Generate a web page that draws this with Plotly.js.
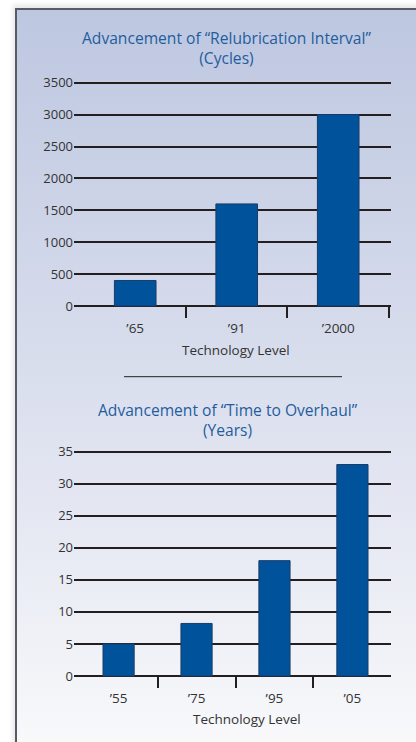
<!DOCTYPE html>
<html>
<head>
<meta charset="utf-8">
<script src="https://cdn.plot.ly/plotly-3.0.1.min.js"></script>
<style>
  html, body { margin: 0; padding: 0; background: #ffffff; width: 416px; height: 742px; overflow: hidden; }
  #panel {
    position: absolute; left: 15px; top: 8px; width: 420px; height: 760px;
    border-top: 2px solid #565b66; border-left: 2px solid #565b66;
    background: linear-gradient(to bottom, #bdc7e0 0%, #d2d8ea 35%, #e4e7f2 65%, #f3f4f8 88%, #fbfbfd 100%);
    box-shadow: -2px -3px 5px rgba(0,0,0,0.10);
  }
  #chart { position: absolute; left: 0; top: 0; width: 416px; height: 742px; }
</style>
</head>
<body>
<div id="panel"></div>
<div id="chart"></div>
<script>
// ---- data ----
const relubCategories = ["\u201965", "\u201991", "\u20192000"];
const relubValues = [400, 1600, 3000];
const relubTickVals = [0, 500, 1000, 1500, 2000, 2500, 3000, 3500];

const overhaulCategories = ["\u201955", "\u201975", "\u201995", "\u201905"];
const overhaulValues = [5, 8.2, 18, 33];
const overhaulTickVals = [0, 5, 10, 15, 20, 25, 30, 35];

const titleTop1 = "Advancement of \u201cRelubrication Interval\u201d";
const titleTop2 = "(Cycles)";
const titleBot1 = "Advancement of \u201cTime to Overhaul\u201d";
const titleBot2 = "(Years)";
const xTitle = "Technology Level";

// ---- styles ----
const W = 416, H = 742;
const FONT = "Open Sans, Noto Sans, sans-serif";
const barFill = "#00529b";
const barEdge = "#1b3b68";
const gridCol = "#231f20";
const textCol = "#333333";
const titleCol = "#1f5d9e";

function px(x) { return x / W; }
function py(y) { return 1 - y / H; }
function boundaries(cats) { return cats.map((c, i) => i + 0.5); }

const topXRange = [-0.603, 2.52];
const botXRange = [-0.572, 3.495];

const traces = [
  { type: "bar", x: relubCategories, y: relubValues, xaxis: "x", yaxis: "y", width: 0.41,
    marker: { color: barFill, line: { color: barEdge, width: 1 } }, hoverinfo: "skip", showlegend: false },
  { type: "bar", x: overhaulCategories, y: overhaulValues, xaxis: "x2", yaxis: "y2", width: 0.40,
    marker: { color: barFill, line: { color: barEdge, width: 1 } }, hoverinfo: "skip", showlegend: false },
  { type: "scatter", x: [], y: [], xaxis: "x3", yaxis: "y", hoverinfo: "skip", showlegend: false },
  { type: "scatter", x: [], y: [], xaxis: "x4", yaxis: "y2", hoverinfo: "skip", showlegend: false }
];

const yCommon = {
  showgrid: true, gridcolor: gridCol, gridwidth: 2, zeroline: false, showline: false,
  ticks: "", tickfont: { family: FONT, size: 13, color: textCol }, fixedrange: true
};
const xCommon = {
  type: "category", showgrid: false, zeroline: false, showline: false,
  ticks: "outside", ticklen: 6, tickcolor: "rgba(0,0,0,0)",
  tickfont: { family: FONT, size: 13.5, color: textCol }, fixedrange: true
};
const xTickOverlay = {
  type: "linear", showgrid: false, zeroline: false, showline: false, showticklabels: false,
  ticks: "outside", ticklen: 11, tickwidth: 2, tickcolor: gridCol, tickmode: "array", fixedrange: true,
  anchor: "free"
};

const layout = {
  width: W, height: H,
  margin: { l: 0, r: 0, t: 0, b: 0 },
  paper_bgcolor: "rgba(0,0,0,0)", plot_bgcolor: "rgba(0,0,0,0)",
  showlegend: false,
  xaxis: Object.assign({}, xCommon, { domain: [px(74), px(391)], range: topXRange, anchor: "y" }),
  yaxis: Object.assign({}, yCommon, { domain: [py(310), py(78.7)], range: [-63, 3563],
    tickmode: "array", tickvals: relubTickVals, anchor: "x" }),
  xaxis2: Object.assign({}, xCommon, { domain: [px(74), px(391)], range: botXRange, anchor: "y2" }),
  yaxis2: Object.assign({}, yCommon, { domain: [py(680), py(447.7)], range: [-0.624, 35.624],
    tickmode: "array", tickvals: overhaulTickVals, anchor: "x2" }),
  xaxis3: Object.assign({}, xTickOverlay, { overlaying: "x", position: py(306), range: topXRange,
    tickvals: boundaries(relubCategories) }),
  xaxis4: Object.assign({}, xTickOverlay, { overlaying: "x2", position: py(676), range: botXRange,
    tickvals: boundaries(overhaulCategories) }),
  annotations: [
    { text: titleTop1 + "<br>" + titleTop2, x: px(227), y: py(47.8), xref: "paper", yref: "paper",
      showarrow: false, xanchor: "center", yanchor: "middle", align: "center",
      font: { family: FONT, size: 15.6, color: titleCol } },
    { text: xTitle, x: px(236), y: py(350), xref: "paper", yref: "paper", showarrow: false,
      xanchor: "center", yanchor: "middle", font: { family: FONT, size: 13.5, color: textCol } },
    { text: titleBot1 + "<br>" + titleBot2, x: px(227.5), y: py(420.3), xref: "paper", yref: "paper",
      showarrow: false, xanchor: "center", yanchor: "middle", align: "center",
      font: { family: FONT, size: 15.6, color: titleCol } },
    { text: xTitle, x: px(247), y: py(719), xref: "paper", yref: "paper", showarrow: false,
      xanchor: "center", yanchor: "middle", font: { family: FONT, size: 13.5, color: textCol } }
  ],
  shapes: [
    { type: "line", xref: "paper", yref: "paper", x0: px(124), x1: px(342), y0: py(376.7), y1: py(376.7),
      line: { color: gridCol, width: 1 } }
  ]
};

Plotly.newPlot("chart", traces, layout, { displayModeBar: false, staticPlot: true });
</script>
</body>
</html>
